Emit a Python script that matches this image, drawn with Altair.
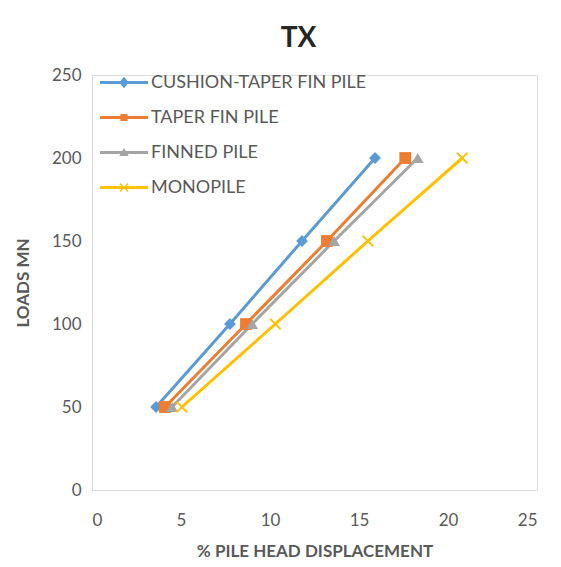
import altair as alt
import pandas as pd

series = ["CUSHION-TAPER FIN PILE", "TAPER FIN PILE", "FINNED PILE", "MONOPILE"]
colors = ["#5B9BD5", "#ED7D31", "#A5A5A5", "#FFC000"]
loads = [50, 100, 150, 200]
cushion_disp = [3.6, 7.75, 11.8, 15.9]
taper_disp = [4.1, 8.65, 13.2, 17.6]
finned_disp = [4.5, 9.0, 13.6, 18.3]
mono_disp = [5.05, 10.3, 15.5, 20.8]

xpath = "M-1,-0.78L-0.78,-1L0,-0.22L0.78,-1L1,-0.78L0.22,0L1,0.78L0.78,1L0,0.22L-0.78,1L-1,0.78L-0.22,0Z"
shapes = ["diamond", "square", "triangle-up", xpath]

# legend symbols: a line segment with the series marker in its middle
LINE = "M-1,-0.065L1,-0.065L1,0.065L-1,0.065Z"
leg_shapes = [
    LINE + "M0,-0.24L0.2,0L0,0.24L-0.2,0Z",
    LINE + "M-0.15,-0.15L0.15,-0.15L0.15,0.15L-0.15,0.15Z",
    LINE + "M0,-0.19L0.2,0.15L-0.2,0.15Z",
    LINE + "M-0.19,-0.15L-0.15,-0.19L0,-0.045L0.15,-0.19L0.19,-0.15L0.045,0L0.19,0.15L0.15,0.19L0,0.045L-0.15,0.19L-0.19,0.15L-0.045,0Z",
]

rows = []
for s, disp in zip(series, [cushion_disp, taper_disp, finned_disp, mono_disp]):
    for d, l in zip(disp, loads):
        rows.append({"series": s, "leg": s, "disp": d, "load": l})
df = pd.DataFrame(rows)

FONT = "Lato"
GREY = "#595959"

x = alt.X("disp:Q", scale=alt.Scale(domain=[0, 25], nice=False),
          axis=alt.Axis(values=[0, 5, 10, 15, 20, 25], title="% PILE HEAD DISPLACEMENT",
                        grid=False, ticks=False, domainColor="#D9D9D9", labelFont=FONT,
                        labelFontSize=17, labelColor=GREY, labelPadding=22,
                        titleFont=FONT, titleFontSize=17, titleFontWeight="bold",
                        titleColor=GREY, titlePadding=15))
y = alt.Y("load:Q", scale=alt.Scale(domain=[0, 250], nice=False),
          axis=alt.Axis(values=[0, 50, 100, 150, 200, 250], title="LOADS MN",
                        grid=False, ticks=False, domainColor="#D9D9D9", labelFont=FONT,
                        labelFontSize=17, labelColor=GREY, labelPadding=11,
                        titleFont=FONT, titleFontSize=17, titleFontWeight="bold",
                        titleColor=GREY, titlePadding=19))

lines = alt.Chart(df).mark_line(strokeWidth=3).encode(
    x=x, y=y,
    color=alt.Color("series:N", sort=series,
                    scale=alt.Scale(domain=series, range=colors), legend=None),
    detail="series:N",
)

points = alt.Chart(df).mark_point(filled=True, size=140, opacity=1, strokeWidth=0).encode(
    x=x, y=y,
    fill=alt.Fill("series:N", sort=series,
                  scale=alt.Scale(domain=series, range=colors), legend=None),
    shape=alt.Shape("series:N", sort=series,
                    scale=alt.Scale(domain=series, range=shapes), legend=None),
)

LW = 48
leg = alt.Legend(orient="none", legendX=8, legendY=-10, title=None, labelFont=FONT,
                 labelFontSize=18, labelColor=GREY, rowPadding=0, clipHeight=35,
                 labelOffset=3, labelLimit=400, symbolSize=LW * LW,
                 symbolStrokeWidth=0, symbolOpacity=1)
legend_layer = alt.Chart(df).mark_point(filled=True, opacity=0, size=1).encode(
    x=x, y=y,
    fill=alt.Fill("leg:N", sort=series,
                  scale=alt.Scale(domain=series, range=colors), legend=leg),
    shape=alt.Shape("leg:N", sort=series,
                    scale=alt.Scale(domain=series, range=leg_shapes), legend=leg),
)

chart = alt.layer(lines, points, legend_layer).resolve_scale(
    fill="independent", shape="independent"
).properties(
    width=445, height=415,
    title=alt.TitleParams("TX", font=FONT, fontSize=28, fontWeight="bold",
                          color="#262626", anchor="middle", offset=12, dx=-16),
    autosize=alt.AutoSizeParams(type="none"),
    padding={"left": 84, "top": 67, "right": 16, "bottom": 70},
).configure_view(stroke=None).configure(background="white")

chart.save("out.html", embed_options={"renderer": "svg", "actions": False})
